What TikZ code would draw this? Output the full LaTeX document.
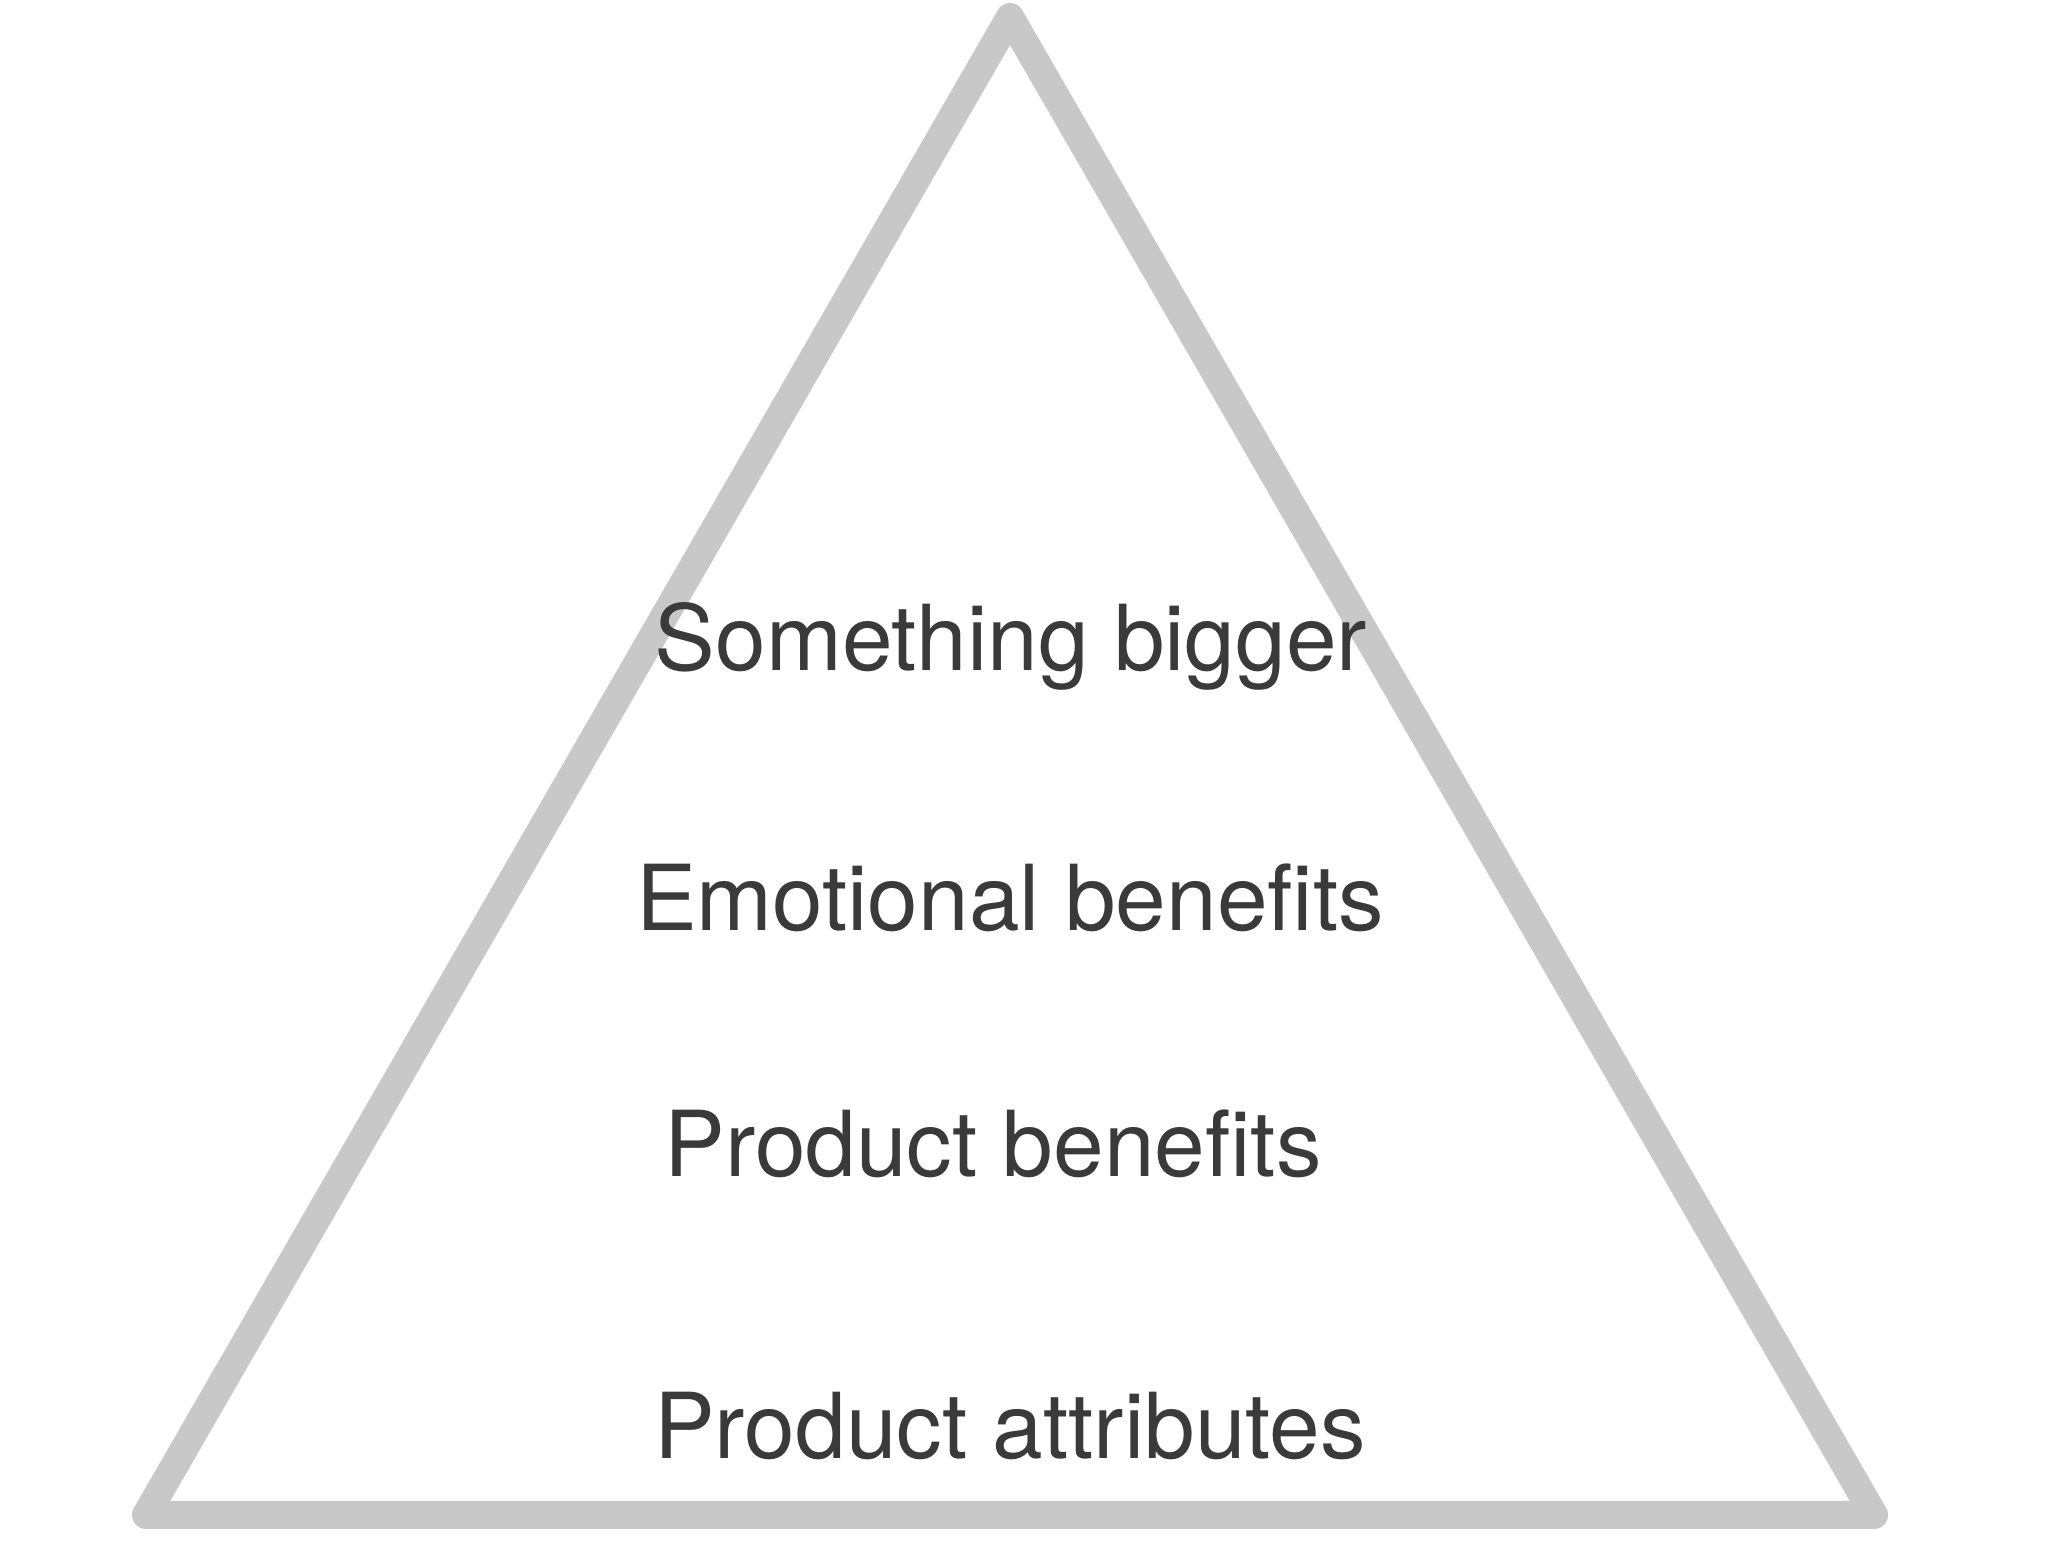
\documentclass[tikz,border=0pt]{standalone}
\usepackage{fontspec}
\setmainfont{TeX Gyre Heros}
\definecolor{edgegrey}{HTML}{C8C8C8}
\definecolor{textgrey}{HTML}{3A3A3A}
\begin{document}
\begin{tikzpicture}[
  label/.style={anchor=base, inner sep=0pt, text=textgrey, font=\fontsize{25.9pt}{30pt}\selectfont},
  pyramid/.style={draw=edgegrey, line width=0.28cm, line join=round}
]
\useasboundingbox (0,0) rectangle (20.56,15.42);
\coordinate (apex) at (10.10,15.25);
\coordinate (bl) at (1.46,0.27);
\coordinate (br) at (18.74,0.27);
\draw[pyramid] (apex) -- (bl) -- (br) -- cycle;
\node[label] (bigger) at (10.11,8.71) {Something bigger};
\node[label] (emotional) at (10.10,6.11) {Emotional benefits};
\node[label] (pbenefits) at (9.93,3.65) {Product benefits};
\node[label] (pattr) at (10.10,0.83) {Product attributes};
\end{tikzpicture}
\end{document}
